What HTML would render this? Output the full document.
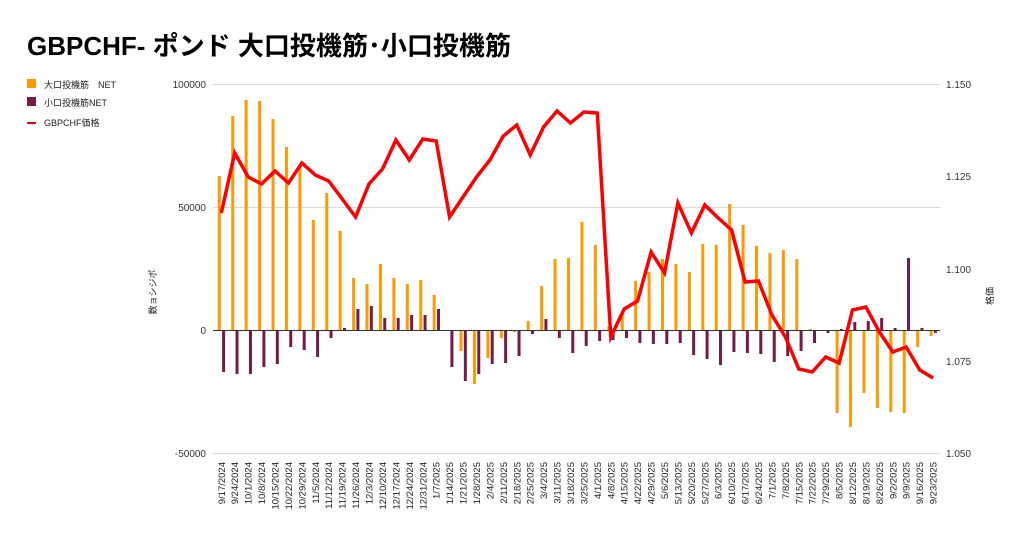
<!DOCTYPE html>
<html><head><meta charset="utf-8"><style>
body{margin:0;background:#fff;}
svg text{font-family:"Liberation Sans","Noto Sans CJK JP",sans-serif;}
</style></head><body>
<svg id="s" width="1024" height="537" viewBox="0 0 1024 537" xmlns="http://www.w3.org/2000/svg">
<rect width="1024" height="537" fill="#fff"/>
<text x="27" y="55" font-size="26" font-weight="bold" fill="#000">GBPCHF- ポンド 大口投機筋･小口投機筋</text>
<rect x="27" y="79" width="9" height="9" fill="#ff9900"/>
<text x="44" y="88" font-size="9" fill="#222">大口投機筋　NET</text>
<rect x="27" y="97" width="9" height="9" fill="#741b47"/>
<text x="44" y="106" font-size="9" fill="#222">小口投機筋NET</text>
<rect x="27" y="122" width="9" height="2" fill="#ff0000"/>
<text x="44" y="126" font-size="9" fill="#222">GBPCHF価格</text>
<g stroke="#d9d9d9" stroke-width="1">
<line x1="213" y1="84.5" x2="940" y2="84.5"/>
<line x1="213" y1="207.5" x2="940" y2="207.5"/>
<line x1="213" y1="453.5" x2="940" y2="453.5"/>
</g>
<g font-size="10" fill="#333" text-anchor="end">
<text x="206" y="88">100000</text>
<text x="206" y="211">50000</text>
<text x="206" y="334">0</text>
<text x="206" y="457">-50000</text>
</g>
<g font-size="10" fill="#333">
<text x="946" y="88">1.150</text>
<text x="946" y="180">1.125</text>
<text x="946" y="273">1.100</text>
<text x="946" y="365">1.075</text>
<text x="946" y="457">1.050</text>
</g>
<text transform="translate(156,292) rotate(-90)" font-size="9" fill="#222" text-anchor="middle">数ョシジポ</text>
<text transform="translate(993,296) rotate(-90)" font-size="9" fill="#222" text-anchor="middle">格価</text>
<g id="bars"></g>
<line x1="213" y1="330.5" x2="940" y2="330.5" stroke="#333" stroke-width="1"/>
<polyline id="ln" fill="none" stroke="#ff0000" stroke-width="3.5" stroke-linejoin="miter"/>
<g id="xl" font-size="9.5" fill="#222" text-anchor="end">
<text>9/17/2024</text><text>9/24/2024</text><text>10/1/2024</text><text>10/8/2024</text><text>10/15/2024</text><text>10/22/2024</text><text>10/29/2024</text><text>11/5/2024</text><text>11/12/2024</text><text>11/19/2024</text><text>11/26/2024</text><text>12/3/2024</text><text>12/10/2024</text><text>12/17/2024</text><text>12/24/2024</text><text>12/31/2024</text><text>1/7/2025</text><text>1/14/2025</text><text>1/21/2025</text><text>1/28/2025</text><text>2/4/2025</text><text>2/11/2025</text><text>2/18/2025</text><text>2/25/2025</text><text>3/4/2025</text><text>3/11/2025</text><text>3/18/2025</text><text>3/25/2025</text><text>4/1/2025</text><text>4/8/2025</text><text>4/15/2025</text><text>4/22/2025</text><text>4/29/2025</text><text>5/6/2025</text><text>5/13/2025</text><text>5/20/2025</text><text>5/27/2025</text><text>6/3/2025</text><text>6/10/2025</text><text>6/17/2025</text><text>6/24/2025</text><text>7/1/2025</text><text>7/8/2025</text><text>7/15/2025</text><text>7/22/2025</text><text>7/29/2025</text><text>8/5/2025</text><text>8/12/2025</text><text>8/19/2025</text><text>8/26/2025</text><text>9/2/2025</text><text>9/9/2025</text><text>9/16/2025</text><text>9/23/2025</text>
</g>
</svg>
<script>
var O=[176,116,100,101,119,147,168,220,193,231,278,284,264,278,284,280,295,330,351,384,358,338,332,321,286,259,258,222,245,327,313,281,272,259,264,272,244,245,204,225,246,253,250,259,329,330,413,427,393,408,412,413,347,336];
var P=[372,374,374,367,364,347,350,357,338,328,309,306,318,318,315,315,309,367,381,374,364,363,356,334,319,338,353,346,341,340,338,343,344,344,343,355,359,365,352,353,354,362,356,351,343,333,329,322,321,318,328,258,328,333];
var L=[213,153,177,184,171,183,163,175,181,199,217,184,169,140,160,139,141,217,197,177,160,136,125,155,127,111,123,112,113,337,309,301,252,273,203,233,205,218,230,282,281,315,337,369,372,357,363,310,307,332,352,347,370,378];
var ns="http://www.w3.org/2000/svg",g=document.getElementById('bars'),pts=[];
function r(x,y1,y2,c){var e=document.createElementNS(ns,'rect');e.setAttribute('x',x);e.setAttribute('y',Math.min(y1,y2));e.setAttribute('width',3);e.setAttribute('height',Math.max(0.5,Math.abs(y2-y1)));e.setAttribute('fill',c);g.appendChild(e);}
var xl=document.getElementById('xl').children;
for(var i=0;i<54;i++){var c=221.3+13.43*i;
r(c-3.5,O[i],330.5,'#ff9900');r(c+0.8,P[i],330.5,'#741b47');pts.push(c.toFixed(1)+','+L[i]);
xl[i].setAttribute('transform','translate('+(c+3.5).toFixed(1)+',462) rotate(-90)');}
document.getElementById('ln').setAttribute('points',pts.join(' '));
</script>
</body></html>
